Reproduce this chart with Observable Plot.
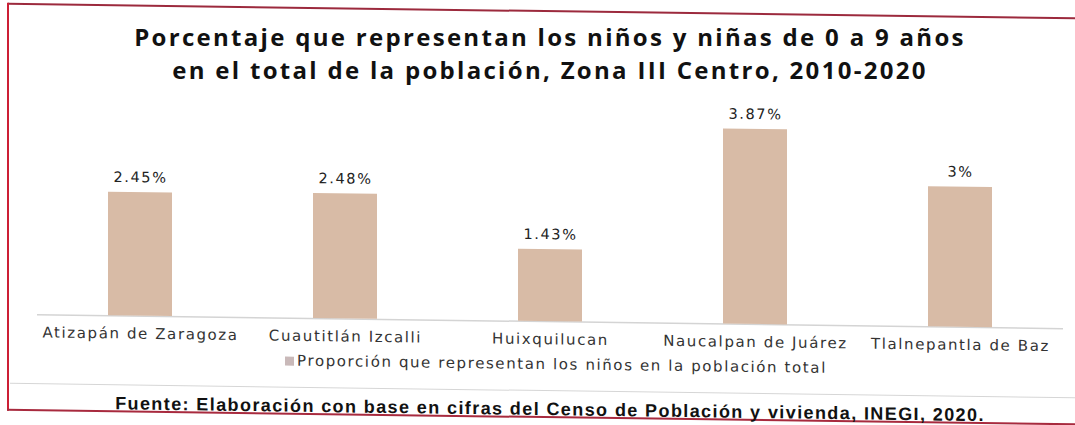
<!DOCTYPE html>
<html>
<head>
<meta charset="utf-8">
<script src="https://cdn.jsdelivr.net/npm/d3@7"></script>
<script src="https://cdn.jsdelivr.net/npm/@observablehq/plot@0.6"></script>
<style>
  html, body { margin: 0; padding: 0; background: #fff; overflow: hidden; }
  #page { position: relative; width: 1075px; height: 425px; overflow: hidden; background: #fff; }
  #wrap { position: absolute; left: 0; top: 0; width: 1075px; height: 425px;
    transform: skewY(0.78deg); transform-origin: 537.5px 212.5px; }
  .tl { position: absolute; left: 0; width: 1100px; text-align: center; white-space: nowrap;
    font-family: "Open Sans", sans-serif; font-weight: 700; font-size: 24px; line-height: 30px;
    letter-spacing: 2.3px; color: #111; }
  #t1 { top: 22px; }
  #t2 { top: 55px; }
  #chart { position: absolute; left: 0; top: 0; }
  #legend { position: absolute; left: 0; width: 1112px; top: 355px; text-align: center;
    font-family: "DejaVu Sans", sans-serif; font-size: 15px; line-height: 18px; letter-spacing: 1.6px; color: #333; }
  #legend .sw { display: inline-block; width: 9px; height: 9px; background: #c9b9b9; margin-right: 3px; }
  #sep { position: absolute; left: 10px; width: 1065px; top: 390px; height: 1px; background: #d6d6d6; }
  #foot { position: absolute; left: 0; width: 1100px; top: 398px; text-align: center;
    font-family: "Liberation Sans", Arial, sans-serif; font-size: 18px; line-height: 22px; font-weight: 700;
    letter-spacing: 1.4px; color: #111; }
  #bTop { position: absolute; left: 8px; width: 1067px; top: 9.5px; height: 2px; background: #9c2a3d; }
  #bLeft { position: absolute; left: 7px; width: 2px; top: 9.5px; height: 408px; background: #cc1f35; }
  #bBot { position: absolute; left: 7px; width: 1068px; top: 416px; height: 2px; background: #a82a3e; }
</style>
</head>
<body>
<div id="page">
<div id="wrap">
  <div id="bTop"></div><div id="bLeft"></div><div id="bBot"></div>
  <div id="chart"></div>
  <div id="legend"><span class="sw"></span>Proporción que representan los niños en la población total</div>
  <div id="sep"></div>
  <div id="foot">Fuente: Elaboración con base en cifras del Censo de Población y vivienda, INEGI, 2020.</div>
</div>
<div class="tl" id="t1">Porcentaje que representan los niños y niñas de 0 a 9 años</div>
<div class="tl" id="t2">en el total de la población, Zona III Centro, 2010-2020</div>
</div>
<script>
const municipios = ["Atizapán de Zaragoza", "Cuautitlán Izcalli", "Huixquilucan", "Naucalpan de Juárez", "Tlalnepantla de Baz"];
const porcentajes = [2.45, 2.48, 1.43, 3.87, 2.78];
const etiquetas = ["2.45%", "2.48%", "1.43%", "3.87%", "3%"];

const data = municipios.map((m, i) => ({municipio: m, valor: porcentajes[i], etiqueta: etiquetas[i]}));

const chart = Plot.plot({
  width: 1075,
  height: 425,
  marginTop: 100,
  marginBottom: 104,
  marginLeft: 37,
  marginRight: 12,
  style: {fontFamily: "DejaVu Sans, sans-serif", fontSize: "15px", color: "#333", background: "transparent", letterSpacing: "1.6px"},
  x: {domain: municipios, paddingInner: 0.69, paddingOuter: 0.345, label: null, tickSize: 0, tickPadding: 12},
  y: {domain: [0, 4.385], axis: null},
  marks: [
    Plot.ruleY([0], {stroke: "#d4d4d4", strokeWidth: 1.5}),
    Plot.barY(data, {x: "municipio", y: "valor", fill: "#d8bba6"}),
    Plot.text(data, {x: "municipio", y: "valor", text: "etiqueta", dy: -15, fill: "#222", fontSize: 14.5})
  ]
});
document.getElementById("chart").appendChild(chart);
</script>
</body>
</html>
